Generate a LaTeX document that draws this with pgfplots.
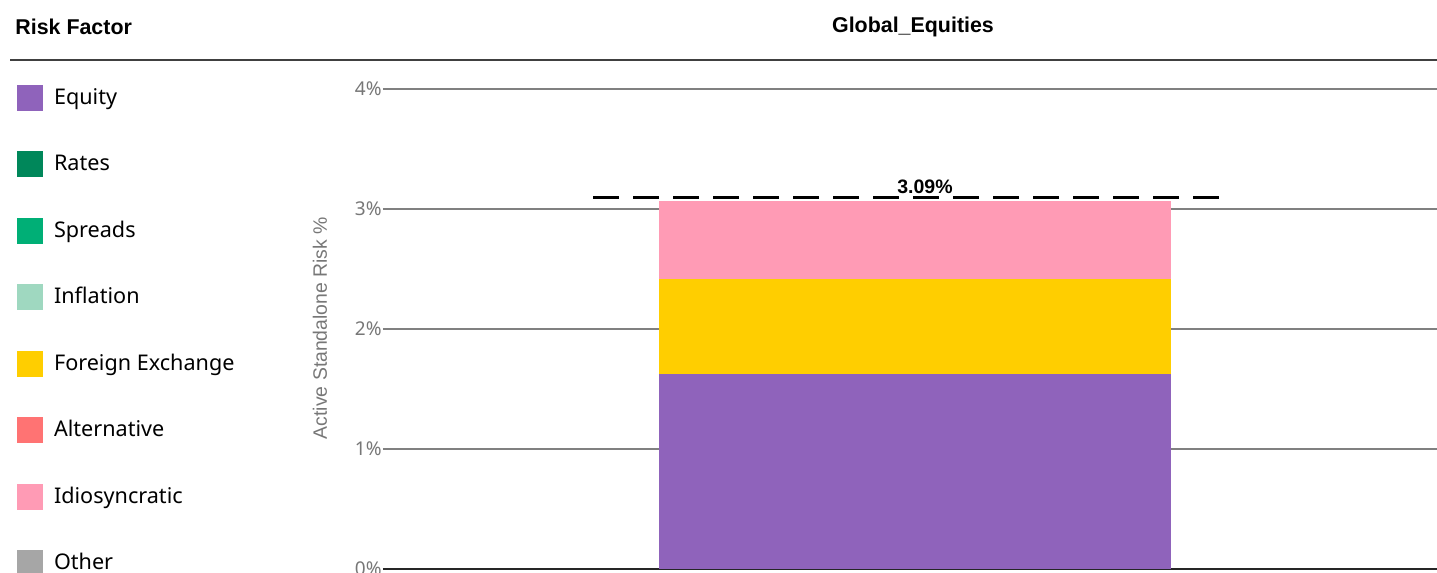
\documentclass[border=0pt]{standalone}
\usepackage{fontspec}
\setmainfont{Noto Sans}
\newfontfamily\lib{Liberation Sans}
\usepackage{pgfplots}
\pgfplotsset{compat=1.18}
\definecolor{eq}{HTML}{8F63BB}
\definecolor{rates}{HTML}{00875A}
\definecolor{spreads}{HTML}{00AF76}
\definecolor{infl}{HTML}{9FD8C0}
\definecolor{fx}{HTML}{FFCE00}
\definecolor{alt}{HTML}{FF7373}
\definecolor{idio}{HTML}{FF9BB5}
\definecolor{other}{HTML}{A6A6A6}
\definecolor{tickgray}{HTML}{777777}
\pgfplotsset{sq/.style={legend image code/.code={\fill[##1,draw=none] (0pt,-6.5pt) rectangle (13pt,6.5pt);}}}
\begin{document}
\begin{tikzpicture}
\node[anchor=west,font=\lib\bfseries\fontsize{10.7}{12}\selectfont,inner sep=0pt] at (7.5pt,273pt) {Risk Factor};
\node[font=\lib\bfseries\fontsize{10.7}{12}\selectfont,inner sep=0pt] at (456.5pt,273pt) {Global\_Equities};
\draw[black!75,line width=0.6pt] (5pt,256.5pt) -- (718.5pt,256.5pt);
\begin{axis}[
  at={(191.5pt,2pt)}, anchor=south west, scale only axis,
  width=527pt, height=240pt,
  xmin=383, xmax=1437, ymin=0, ymax=4,
  ybar stacked, bar width=256pt,
  xtick=\empty,
  ytick={0,1,2,3,4},
  yticklabels={0\%,1\%,2\%,3\%,4\%},
  yticklabel style={text=tickgray,font=\fontsize{9.5}{11}\selectfont,inner sep=0pt,xshift=-0.5pt},
  major tick length=0pt,
  axis line style={draw=none},
  ymajorgrids, grid style={draw=black!50,line width=0.6pt},
  extra y ticks={0}, extra y tick labels={},
  extra y tick style={grid style={draw=black!85,line width=0.6pt}},
  ylabel={\lib Active Standalone Risk \%},
  ylabel style={at={(axis description cs:-0.0598,0.502)},anchor=center,rotate=0,text=tickgray,font=\fontsize{9.7}{11}\selectfont},
  legend style={at={(axis description cs:-0.3472,1.0090)},anchor=north west,draw=none,fill=none,
    inner sep=0pt,outer sep=0pt,row sep=20.25pt,column sep=5.5pt,
    nodes={inner sep=0pt},font=\fontsize{10.8}{12}\selectfont},
  legend cell align=left,
  clip=false,
]
\addplot[fill=eq,draw=none,sq] coordinates {(915,1.627)};
\addlegendentry{Equity}
\addlegendimage{fill=rates,draw=none,sq}
\addlegendentry{Rates}
\addlegendimage{fill=spreads,draw=none,sq}
\addlegendentry{Spreads}
\addlegendimage{fill=infl,draw=none,sq}
\addlegendentry{Inflation}
\addplot[fill=fx,draw=none,sq] coordinates {(915,0.792)};
\addlegendentry{Foreign Exchange}
\addlegendimage{fill=alt,draw=none,sq}
\addlegendentry{Alternative}
\addplot[fill=idio,draw=none,sq] coordinates {(915,0.651)};
\addlegendentry{Idiosyncratic}
\addlegendimage{fill=other,draw=none,sq}
\addlegendentry{Other}
\end{axis}
\begin{axis}[
  at={(191.5pt,2pt)}, anchor=south west, scale only axis,
  width=527pt, height=240pt,
  xmin=383, xmax=1437, ymin=0, ymax=4,
  hide axis, clip=false,
]
\addplot[black,line width=1.5pt,dash pattern=on 13pt off 7pt] coordinates {(593,3.094) (1220,3.094)};
\node[anchor=base,font=\lib\bfseries\fontsize{9.75}{11}\selectfont,inner sep=0pt,yshift=2pt] at (axis cs:925,3.094) {3.09\%};
\end{axis}
\pgfresetboundingbox
\useasboundingbox (0pt,0pt) rectangle (718.5pt,286.5pt);
\end{tikzpicture}
\end{document}
